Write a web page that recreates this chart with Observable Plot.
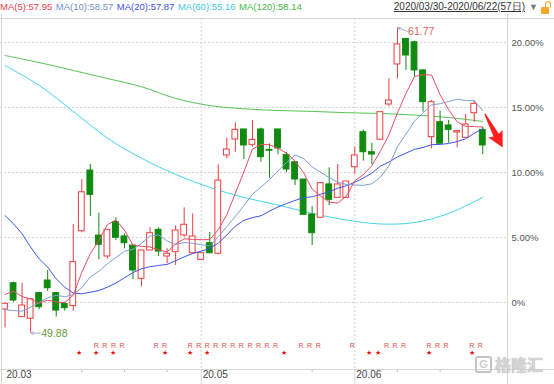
<!DOCTYPE html>
<html><head><meta charset="utf-8">
<script src="https://cdn.jsdelivr.net/npm/d3@7"></script>
<script src="https://cdn.jsdelivr.net/npm/@observablehq/plot@0.6"></script>
<style>
body{margin:0;background:#fff;font-family:"Liberation Sans","Noto Sans",sans-serif;}
#wrap{position:relative;width:554px;height:384px;overflow:hidden;background:#fff;}
#wrap svg{position:absolute;left:0;top:0;}
#legend{position:absolute;left:0;top:0;display:flex;gap:3.5px;font-size:9.5px;line-height:14px;white-space:nowrap;}
.hd{position:absolute;top:0px;font-size:10px;white-space:nowrap;line-height:14px;}
.ln{position:absolute;background:#d6d6d6;}
#wm{position:absolute;left:475px;top:354px;width:76px;height:20px;display:flex;align-items:center;gap:3px;opacity:0.9;}
#wm .g{flex:none;width:13px;height:13px;border:2px solid #bdbdbd;border-radius:3px;
 font:bold 11px/13px "Liberation Sans",sans-serif;text-align:center;color:#c8c8c8;}
#wm .t{flex:none;font-family:"Noto Sans CJK SC",sans-serif;font-size:16px;font-weight:bold;line-height:20px;
 color:#d2d2d2;white-space:nowrap;text-shadow:0 0 1px #999;}
</style></head><body><div id="wrap"></div>
<script>
// Percent change vs. base close (right axis), one entry per trading day 2020/03/30 - 2020/06/22
const openPct  = [-0.54,1.48,-1.13,-1.25,0.72,1.69,0.72,-0.10,-0.28,5.48,10.15,5.15,3.54,6.18,5.08,4.38,1.82,4.00,5.59,3.54,
  3.87,5.15,3.79,3.28,4.56,3.75,11.31,12.54,13.31,12.13,13.31,11.74,13.31,11.36,10.79,9.46,6.77,6.52,9.08,8.05,
  8.05,10.41,13.10,11.56,12.52,15.23,18.31,20.28,20.02,17.85,12.72,13.87,13.62,13.08,12.67,14.56,13.28];
const highPct  = [-0.05,1.56,1.48,0.30,0.79,2.46,0.79,0.02,6.00,9.44,10.62,6.87,5.59,6.52,5.28,4.46,4.00,5.75,5.75,4.13,
  5.90,7.28,6.82,3.79,5.38,10.59,12.64,13.82,13.31,14.00,13.41,12.20,13.31,11.56,10.79,9.46,7.38,9.18,10.36,10.62,
  9.31,11.95,13.28,12.25,14.64,17.21,21.13,20.28,20.10,17.90,15.54,14.72,14.00,13.18,14.46,15.54,13.48];
const lowPct   = [-1.95,0.02,-1.13,-2.36,-0.56,0.85,-1.13,-0.67,-0.67,5.36,6.62,3.28,3.36,4.77,4.13,1.75,1.23,4.00,3.54,2.98,
  2.85,5.02,3.75,3.28,3.75,3.67,11.05,11.56,11.00,11.95,10.79,9.57,11.36,9.98,9.00,6.74,4.38,6.52,7.46,8.05,
  8.05,9.85,10.87,10.60,12.52,15.08,17.21,17.85,17.33,14.64,11.82,12.21,12.25,11.90,12.67,13.85,11.38];
const closePct = [-0.10,0.15,-0.23,0.25,-0.36,1.10,-0.62,-0.44,3.10,8.48,8.28,4.44,5.59,4.98,4.56,2.46,4.00,5.33,3.92,3.75,
  5.54,5.98,5.08,3.79,3.79,9.38,11.77,13.28,12.08,12.51,11.18,11.67,11.85,10.23,9.46,6.74,5.33,9.18,7.90,9.08,
  9.31,11.31,11.56,11.38,14.64,15.54,19.85,19.00,17.85,15.41,15.41,12.21,13.28,13.18,13.69,15.28,12.08];

const ma5  = [0.62,0.87,0.46,0.28,-0.06,0.18,0.03,-0.01,0.56,2.32,3.76,4.77,5.98,6.35,5.57,4.41,4.32,4.27,4.05,3.89,
  4.51,4.90,4.85,4.83,4.84,5.60,6.76,8.40,10.06,11.80,12.16,12.14,11.86,11.49,10.88,9.99,8.72,8.19,7.72,7.65,
  8.16,9.36,9.83,10.53,11.64,12.89,14.59,16.08,17.38,17.53,17.50,15.98,14.83,13.90,13.55,13.53,13.50];
const ma10 = [-0.56,-0.62,-0.67,-0.36,0.00,0.35,0.55,0.45,0.60,1.13,1.97,2.40,2.98,3.46,3.95,4.08,4.55,5.12,5.20,4.73,
  4.46,4.61,4.56,4.44,4.36,5.06,5.83,6.63,7.44,8.32,8.88,9.45,10.13,10.77,11.34,11.08,10.43,10.02,9.61,9.26,
  9.08,9.04,9.01,9.13,9.64,10.52,11.98,12.96,13.95,14.59,15.20,15.29,15.46,15.64,15.54,15.52,14.74];
const ma20 = [6.69,6.05,5.28,4.26,3.36,2.72,1.82,1.18,0.72,0.67,0.79,0.92,1.18,1.50,1.90,2.30,2.60,2.75,2.85,2.93,
  3.21,3.51,3.77,3.95,4.16,4.57,5.19,5.88,6.32,6.53,6.67,7.03,7.35,7.61,7.85,8.07,8.13,8.33,8.52,8.79,
  8.98,9.25,9.57,9.95,10.49,10.80,11.20,11.49,11.78,11.92,12.14,12.16,12.23,12.38,12.59,13.02,13.36];
const longIdx = [0,4,8,12,16,20,24,28,32,36,40,44,48,52,56];
const ma60  = [18.23,16.70,14.70,12.65,11.10,9.85,8.85,8.08,7.50,6.85,6.35,6.04,6.15,6.85,8.09];
const ma120 = [19.00,18.46,17.85,17.23,16.60,15.70,15.15,14.90,14.77,14.70,14.60,14.54,14.42,14.23,13.93];

const legendText = ["MA(5):57.95","MA(10):58.57","MA(20):57.87","MA(60):55.16","MA(120):58.14"];
const legendColors = ["#e8434f","#7291c9","#3a52e4","#3fc9e2","#47b947"];
const lineColors = ["#ea4d64","#7f9fd6","#3e55ea","#43d3ea","#55c455"];

const rIdx = [11,12,13,14,18,19,22,23,24,25,26,27,28,29,30,31,32,35,36,37,41,45,46,47,50,51,52,55,56];
const starIdx = [9,11,13,19,22,24,33,43,44,50,55];
const weekIdx = [9,14,19,36,46,51];
const monthIdx = [0,23,41];
const monthLabels = ["20.03","20.05","20.06"];
const yTicks = [0,5,10,15,20];
const extremes = [
  {i:46, pct:21.13, labelPct:20.85, text:"61.77", color:"#e65a5a"},
  {i:3, pct:-2.36, labelPct:-2.36, text:"49.88", color:"#679a33"}
];
const trendArrow = [{i:56.25, pct:14.5, angle:152, len:38}];

const candles = d3.range(closePct.length).map(i => ({i, open:openPct[i], high:highPct[i], low:lowPct[i], close:closePct[i]}));
const up = candles.filter(d => d.close >= d.open);
const down = candles.filter(d => d.close < d.open);
const maRows = candles.map(d => ({i:d.i, ma5:ma5[d.i], ma10:ma10[d.i], ma20:ma20[d.i]}));
const longRows = longIdx.map((i,k) => ({i, ma60:ma60[k], ma120:ma120[k]}));

const RED = "#ef3b3b", GREEN = "#108a10";
const fatArrow = {draw(ctx, l){
  const hl = 14, hw = 8;
  ctx.moveTo(-0.7, 0);
  ctx.lineTo(-3, -(l - hl));
  ctx.lineTo(-hw, -(l - hl - 1.5));
  ctx.lineTo(0, -l);
  ctx.lineTo(hw, -(l - hl - 1.5));
  ctx.lineTo(3, -(l - hl));
  ctx.lineTo(0.7, 0);
  ctx.closePath();
}};

const chart = Plot.plot({
  width:554, height:384, marginLeft:0, marginRight:47, marginTop:18, marginBottom:15,
  x:{type:"linear", domain:[-0.53, 58.9], label:null},
  y:{domain:[-5.154, 21.846], label:null},
  style:{fontFamily:'"Liberation Sans","Noto Sans",sans-serif', fontSize:"10px", background:"transparent", overflow:"visible"},
  marks:[
    Plot.ruleY(yTicks, {stroke:"#d4d4d4", strokeDasharray:"2,2"}),
    Plot.ruleX(monthIdx.slice(1), {stroke:"#d4d4d4", strokeDasharray:"2,2"}),
    Plot.axisX({ticks:monthIdx.slice(1), tickSize:15, tickFormat:() => "", stroke:"#d4d4d4", label:null}),
    Plot.axisX({ticks:weekIdx, tickSize:3, tickFormat:() => "", stroke:"#bbbbbb", label:null}),
    Plot.text(monthIdx, {x:d => d, text:(d,k) => monthLabels[k], frameAnchor:"bottom", dy:8, dx:1.5, textAnchor:"start", fill:"#444", fontSize:10}),
    Plot.axisY({anchor:"right", ticks:yTicks, tickSize:0, tickPadding:4, tickFormat:d => d === 0 ? "0%" : d.toFixed(2) + "%", fill:"#555", fontSize:9.5, label:null}),
    Plot.line(longRows, {x:"i", y:"ma60", stroke:lineColors[3], strokeWidth:1, curve:"catmull-rom"}),
    Plot.line(longRows, {x:"i", y:"ma120", stroke:lineColors[4], strokeWidth:1, curve:"catmull-rom"}),
    Plot.ruleX(up, {x:"i", y1:"low", y2:"high", stroke:RED, strokeWidth:1}),
    Plot.ruleX(down, {x:"i", y1:"low", y2:"high", stroke:GREEN, strokeWidth:1}),
    Plot.rect(up, {x1:d => d.i - 0.34, x2:d => d.i + 0.34, y1:"open", y2:"close", fill:"white", stroke:RED, strokeWidth:1}),
    Plot.rect(down, {x1:d => d.i - 0.34, x2:d => d.i + 0.34, y1:"open", y2:"close", fill:GREEN, stroke:GREEN, strokeWidth:1}),
    Plot.line(maRows, {x:"i", y:"ma20", stroke:lineColors[2], strokeWidth:1}),
    Plot.line(maRows, {x:"i", y:"ma10", stroke:lineColors[1], strokeWidth:1}),
    Plot.line(maRows, {x:"i", y:"ma5", stroke:lineColors[0], strokeWidth:1}),
    Plot.arrow(extremes, {x1:d => d.i + 1.15, y1:"labelPct", x2:d => d.i + 0.05, y2:"pct", stroke:"#9db3cc", strokeWidth:1, headLength:4}),
    Plot.text(extremes, {x:d => d.i + 1.25, y:"labelPct", text:"text", fill:"color", textAnchor:"start", fontSize:10.5}),
    Plot.text(rIdx, {x:d => d, text:() => "R", frameAnchor:"bottom", dy:-22, dx:-2.5, fontSize:7, fill:"#e44c4c"}),
    Plot.text(starIdx, {x:d => d, text:() => "★", frameAnchor:"bottom", dy:-15, dx:-2.5, fontSize:7, fill:"#e01010"}),
    Plot.vector(trendArrow, {x:"i", y:"pct", length:trendArrow[0].len, rotate:trendArrow[0].angle, anchor:"start", shape:fatArrow, fill:"#ff1f1f", stroke:"none"})
  ]
});

const wrap = document.getElementById("wrap");
wrap.appendChild(chart);
// chrome lines
[[0,18,554,1],[0,369,554,1],[1,14,1,370],[507,14,1,370]].forEach(([l,t,w,h]) => {
  const d = document.createElement("div"); d.className = "ln";
  Object.assign(d.style, {left:l+"px", top:t+"px", width:w+"px", height:h+"px"});
  wrap.appendChild(d);
});
const legend = document.createElement("div"); legend.id = "legend";
legendText.forEach((t,k) => {
  const s = document.createElement("span");
  s.textContent = t; s.style.color = legendColors[k];
  legend.appendChild(s);
});
wrap.appendChild(legend);
const dr = document.createElement("div"); dr.className = "hd";
dr.textContent = "2020/03/30-2020/06/22(57日)";
Object.assign(dr.style, {right:"29px", color:"#333", textDecoration:"underline"});
wrap.appendChild(dr);
const tri = document.createElement("div"); tri.className = "hd";
tri.textContent = "▼"; Object.assign(tri.style, {left:"529px", color:"#777", fontSize:"9px"});
wrap.appendChild(tri);
const lockBody = document.createElement("div");
Object.assign(lockBody.style, {position:"absolute", left:"541px", top:"7px", width:"8px", height:"7px", background:"#f4a62a", borderRadius:"1px"});
const lockShackle = document.createElement("div");
Object.assign(lockShackle.style, {position:"absolute", left:"545px", top:"1px", width:"4px", height:"6px", border:"1.5px solid #f4a62a", borderBottom:"none", borderRadius:"3px 3px 0 0"});
wrap.appendChild(lockShackle); wrap.appendChild(lockBody);
const wm = document.createElement("div"); wm.id = "wm";
wm.innerHTML = '<span class="g">G</span><span class="t">格隆汇</span>';
wrap.appendChild(wm);
</script></body></html>
